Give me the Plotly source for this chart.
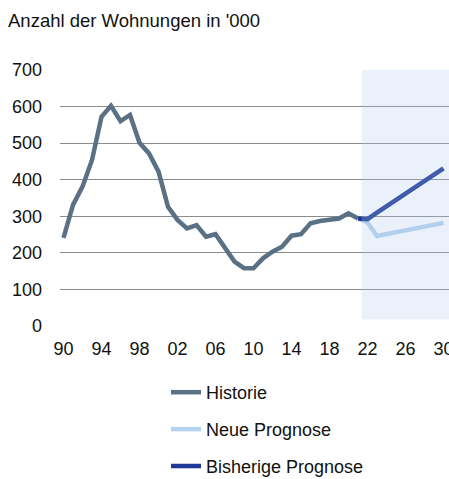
import plotly.graph_objects as go

hist_years = list(range(1990, 2022))
hist_values = [241, 331, 381, 454, 572, 602, 560, 577, 501, 472, 422, 326, 290, 267, 276,
               244, 251, 212, 176, 158, 158, 185, 203, 217, 247, 251, 281, 287, 290, 294,
               308, 294]

neue_years = list(range(2021, 2031))
neue_values = [294, 283, 246, 251, 256, 261, 266, 272, 277, 282]

bish_years = list(range(2021, 2031))
bish_values = [294, 292, 310, 327, 344, 361, 379, 397, 414, 431]

tick_years = [1990, 1994, 1998, 2002, 2006, 2010, 2014, 2018, 2022, 2026, 2030]
tick_labels = ["90", "94", "98", "02", "06", "10", "14", "18", "22", "26", "30"]
y_ticks = [0, 100, 200, 300, 400, 500, 600, 700]

forecast_start = 2021.4
shade_bottom = 18

FONT = "Liberation Sans, Arial, sans-serif"

W, H = 449, 479

fig = go.Figure()
fig.add_trace(go.Scatter(x=hist_years, y=hist_values, mode="lines", name="Historie",
                         line=dict(color="#5A7084", width=4.5), legendgroup="a"))
fig.add_trace(go.Scatter(x=neue_years, y=neue_values, mode="lines", name="Neue Prognose",
                         line=dict(color="#B5D2EE", width=4.5), legendgroup="b"))
fig.add_trace(go.Scatter(x=bish_years, y=bish_values, mode="lines", name="Bisherige Prognose",
                         line=dict(color="#1E3799", width=4.5), legendgroup="c"))

fig.add_shape(type="rect", xref="x", yref="y", x0=forecast_start, x1=2031,
              y0=shade_bottom, y1=700, fillcolor="rgba(171,199,235,0.25)",
              line=dict(width=0), layer="above")

fig.update_layout(
    width=W, height=H,
    margin=dict(l=60, r=0, t=70, b=153),
    paper_bgcolor="white", plot_bgcolor="white",
    font=dict(family=FONT, size=18, color="#111111"),
    title=dict(text="Anzahl der Wohnungen in '000", x=8/W, xanchor="left",
               xref="container", yref="container", y=1-21/H, yanchor="middle",
               pad=dict(l=0, r=0, t=0, b=0),
               font=dict(size=18.5, color="#111111")),
    showlegend=True,
    legend=dict(x=106/389, xanchor="left", xref="paper",
                y=1-374/H, yanchor="top", yref="container",
                orientation="v", tracegroupgap=10.5, font=dict(size=18),
                bgcolor="rgba(0,0,0,0)"),
    xaxis=dict(range=[1989.63, 2030.58], tickvals=tick_years, ticktext=tick_labels,
               showgrid=False, zeroline=False, showline=False, ticks="",
               ticklabelstandoff=10, ticklabeloverflow="allow", automargin=False,
               fixedrange=True),
    yaxis=dict(range=[0, 700], tickvals=y_ticks, showgrid=True, gridcolor="#8C8C8C",
               gridwidth=1, zeroline=False, showline=False, ticks="",
               ticklabelstandoff=17, automargin=False, fixedrange=True),
)

fig.write_html(
    "out.html",
    config={"displayModeBar": False},
    post_script="document.body.style.margin='0';"
                "document.documentElement.style.overflow='hidden';",
)
